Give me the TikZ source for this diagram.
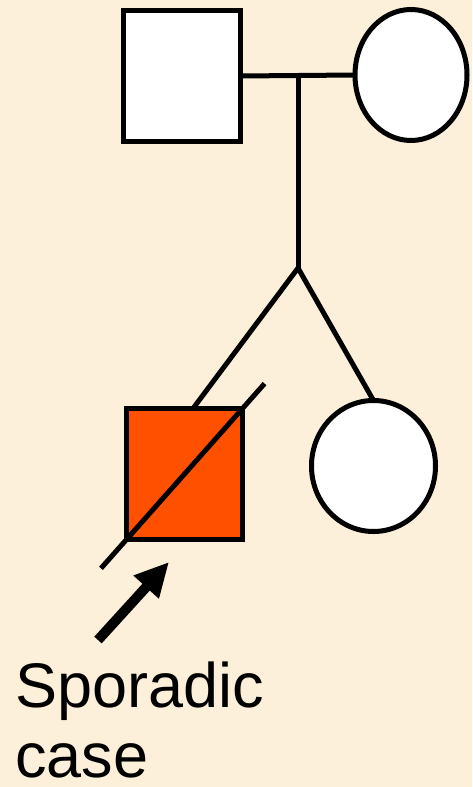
\documentclass[tikz,border=0pt]{standalone}
\usepackage{fontspec}
\setmainfont{Liberation Sans}
\usetikzlibrary{shapes.geometric,arrows.meta,calc}
\definecolor{parch}{RGB}{252,240,218}
\definecolor{affected}{RGB}{255,80,0}
\begin{document}
\begin{tikzpicture}[x=1pt,y=-1pt,
  ped/.style={draw=black,line width=5pt,inner sep=0pt,outer sep=0pt},
  male/.style={ped,rectangle,fill=white,minimum width=117pt,minimum height=131pt},
  female/.style={ped,ellipse,fill=white},
  line/.style={draw=black,line width=5pt},
  pointer/.style={draw=black,line width=10pt,-{Triangle[length=34pt,width=32pt]}},
  lbl/.style={inner sep=0pt,font=\fontsize{63pt}{70pt}\selectfont}]
\fill[parch] (0,0) rectangle (472,787);
\useasboundingbox (0,0) rectangle (472,787);
% parents
\node[male] (father) at (182,76) {};
\node[female,minimum width=112pt,minimum height=131pt] (mother) at (411,75) {};
\draw[line] (father.east) -- (mother.west);
\coordinate (mid) at ($(father.east)!0.5!(mother.west)$);
\coordinate (sib) at (298,268);
\draw[line] (mid -| sib) -- (sib);
% children
\node[male,fill=affected,minimum width=116pt] (child) at (184.5,474) {};
\node[female,minimum width=124pt,minimum height=131pt] (sister) at (373.5,466) {};
\draw[line] (sib) -- ($(child.north)+(8.5,0)$);
\draw[line] (sib) -- (sister.north);
\draw[line] ($(child.south west)!-0.22!(child.north east)$) -- ($(child.south west)!1.19!(child.north east)$);
% proband arrow
\coordinate (tail) at (98,640);
\coordinate (tip) at (169,562);
\draw[pointer] (tail) -- (tip);
% label
\node[lbl,anchor=base west] (l1) at (15,707) {Sporadic};
\node[lbl,anchor=base west] (l2) at (15,777) {case};
\end{tikzpicture}
\end{document}
